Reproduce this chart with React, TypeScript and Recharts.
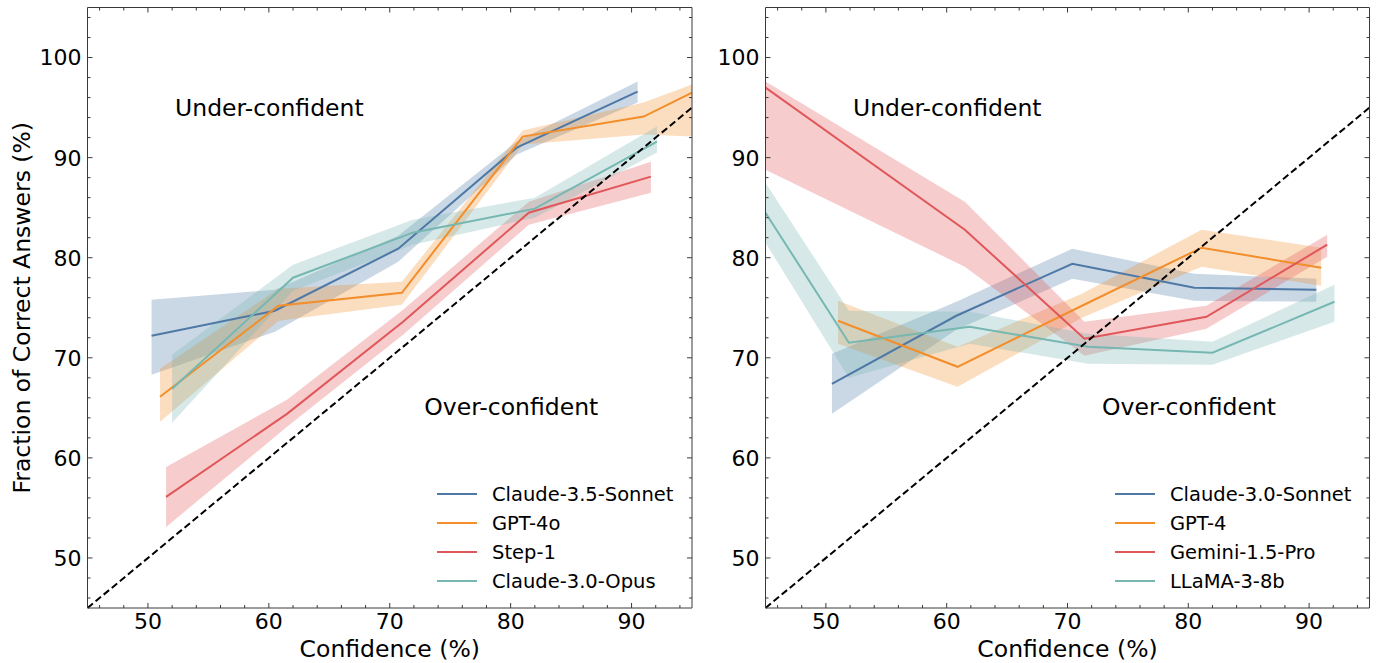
import React from 'react';
import { ComposedChart, Line, Area, XAxis, YAxis, ReferenceLine, ReferenceDot } from 'recharts';

// ---------- tick values ----------
const X_TICKS = [46, 48, 50, 52, 54, 56, 58, 60, 62, 64, 66, 68, 70, 72, 74, 76, 78, 80, 82, 84, 86, 88, 90, 92, 94];
const Y_TICKS = [46, 48, 50, 52, 54, 56, 58, 60, 62, 64, 66, 68, 70, 72, 74, 76, 78, 80, 82, 84, 86, 88, 90, 92, 94, 96, 98, 100, 102, 104];
const DIAGONAL = [45, 95];

// ---------- left panel ----------
const sonnet35Name = 'Claude-3.5-Sonnet';
const sonnet35X = [50.3, 60.5, 70.7, 80.5, 90.5];
const sonnet35Y = [72.2, 74.7, 80.9, 91.0, 96.6];
const sonnet35Lo = [68.3, 72.6, 79.6, 90.3, 95.5];
const sonnet35Hi = [75.8, 76.8, 82.2, 91.6, 97.6];

const gpt4oName = 'GPT-4o';
const gpt4oX = [51.0, 60.8, 71.0, 81.0, 91.0, 95.0];
const gpt4oY = [66.1, 75.2, 76.5, 92.1, 94.1, 96.5];
const gpt4oLo = [63.6, 73.7, 75.3, 91.3, 92.3, 92.1];
const gpt4oHi = [68.9, 76.9, 77.6, 92.7, 95.5, 97.3];

const step1Name = 'Step-1';
const step1X = [51.5, 61.5, 71.1, 81.5, 91.6];
const step1Y = [56.1, 64.4, 73.6, 84.5, 88.1];
const step1Lo = [53.1, 63.1, 72.3, 83.3, 86.5];
const step1Hi = [59.1, 65.8, 74.8, 85.6, 89.6];

const opusName = 'Claude-3.0-Opus';
const opusX = [52.0, 62.0, 71.9, 82.0, 92.1];
const opusY = [66.9, 78.0, 82.5, 84.9, 91.6];
const opusLo = [63.5, 76.7, 81.3, 84.0, 90.5];
const opusHi = [70.3, 79.3, 83.8, 86.0, 93.1];

// ---------- right panel ----------
const sonnet30Name = 'Claude-3.0-Sonnet';
const sonnet30X = [50.5, 60.8, 70.4, 80.5, 90.6];
const sonnet30Y = [67.4, 74.2, 79.4, 77.0, 76.8];
const sonnet30Lo = [64.4, 72.8, 77.9, 75.7, 75.6];
const sonnet30Hi = [70.4, 75.6, 80.9, 78.4, 77.9];

const gpt4Name = 'GPT-4';
const gpt4X = [51.0, 60.9, 71.2, 81.1, 91.0];
const gpt4Y = [73.7, 69.1, 75.2, 81.0, 79.0];
const gpt4Lo = [71.4, 67.1, 74.0, 79.1, 77.2];
const gpt4Hi = [75.7, 71.1, 76.4, 82.8, 81.0];

const geminiName = 'Gemini-1.5-Pro';
const geminiX = [45.0, 61.5, 71.4, 81.5, 91.5];
const geminiY = [97.0, 82.8, 71.9, 74.1, 81.3];
const geminiLo = [88.8, 79.1, 70.2, 72.9, 80.1];
const geminiHi = [97.6, 85.6, 73.6, 75.2, 82.3];

const llamaName = 'LLaMA-3-8b';
const llamaX = [45.0, 51.9, 61.9, 71.7, 82.0, 92.1];
const llamaY = [84.5, 71.5, 73.1, 71.1, 70.5, 75.6];
const llamaLo = [81.5, 68.0, 71.4, 69.4, 69.3, 73.6];
const llamaHi = [87.5, 74.7, 74.6, 72.4, 71.6, 77.3];

// ---------- styling ----------
const BLUE = '#4e79a7';
const ORANGE = '#f28e2b';
const RED = '#e15759';
const TEAL = '#76b7b2';
const FRAME = '#3a3a3a';
const FONT = '"DejaVu Sans", Verdana, sans-serif';

type Series = { name: string; color: string; data: { x: number; y: number; range: [number, number] }[] };

const build = (name: string, color: string, xs: number[], ys: number[], lo: number[], hi: number[]): Series => ({
  name,
  color,
  data: xs.map((x, i) => ({ x, y: ys[i], range: [lo[i], hi[i]] as [number, number] })),
});

const leftSeries: Series[] = [
  build(sonnet35Name, BLUE, sonnet35X, sonnet35Y, sonnet35Lo, sonnet35Hi),
  build(gpt4oName, ORANGE, gpt4oX, gpt4oY, gpt4oLo, gpt4oHi),
  build(step1Name, RED, step1X, step1Y, step1Lo, step1Hi),
  build(opusName, TEAL, opusX, opusY, opusLo, opusHi),
];

const rightSeries: Series[] = [
  build(sonnet30Name, BLUE, sonnet30X, sonnet30Y, sonnet30Lo, sonnet30Hi),
  build(gpt4Name, ORANGE, gpt4X, gpt4Y, gpt4Lo, gpt4Hi),
  build(geminiName, RED, geminiX, geminiY, geminiLo, geminiHi),
  build(llamaName, TEAL, llamaX, llamaY, llamaLo, llamaHi),
];

const MAJOR = 5;
const MINOR = 3;
const isMajor = (v: number) => v % 10 === 0;

type Frame = { left: number; right: number; top: number; bottom: number };

const makeBottomTick = (f: Frame) => (p: any) => {
  const v = p.payload.value;
  const m = isMajor(v);
  return (
    <g>
      <line x1={p.x} x2={p.x} y1={f.bottom} y2={f.bottom - (m ? MAJOR : MINOR)} stroke={FRAME} strokeWidth={1} />
      {m && (
        <text x={p.x} y={f.bottom + 5} dy="0.71em" textAnchor="middle" fontFamily={FONT} fontSize={22} fill="#000">
          {v}
        </text>
      )}
    </g>
  );
};
const makeTopTick = (f: Frame) => (p: any) => {
  const v = p.payload.value;
  const m = isMajor(v);
  return <line x1={p.x} x2={p.x} y1={f.top} y2={f.top + (m ? MAJOR : MINOR)} stroke={FRAME} strokeWidth={1} />;
};
const makeLeftTick = (f: Frame) => (p: any) => {
  const v = p.payload.value;
  const m = isMajor(v);
  return (
    <g>
      <line x1={f.left} x2={f.left + (m ? MAJOR : MINOR)} y1={p.y} y2={p.y} stroke={FRAME} strokeWidth={1} />
      {m && (
        <text x={f.left - 6} y={p.y} dy="0.36em" textAnchor="end" fontFamily={FONT} fontSize={22} fill="#000">
          {v}
        </text>
      )}
    </g>
  );
};
const makeRightTick = (f: Frame) => (p: any) => {
  const v = p.payload.value;
  const m = isMajor(v);
  return <line x1={f.right} x2={f.right - (m ? MAJOR : MINOR)} y1={p.y} y2={p.y} stroke={FRAME} strokeWidth={1} />;
};

const XLabel = (props: any) => {
  const vb = props.viewBox || {};
  return (
    <text x={vb.x + vb.width / 2} y={608 + 49} textAnchor="middle" fontFamily={FONT} fontSize={23.5} fill="#000">
      Confidence (%)
    </text>
  );
};

const YLabel = () => {
  const cy = (7.5 + 608) / 2;
  const bx = 30;
  return (
    <text
      x={bx}
      y={cy}
      transform={`rotate(-90, ${bx}, ${cy})`}
      textAnchor="middle"
      fontFamily={FONT}
      fontSize={23.5}
      fill="#000"
    >
      Fraction of Correct Answers (%)
    </text>
  );
};

const annText = (label: string) => (p: any) => (
  <text x={p.cx} y={p.cy} fontFamily={FONT} fontSize={23.5} fill="#000">
    {label}
  </text>
);

const UNDER_POS = { x: 52.24, y: 94.2 };
const OVER_POS = { x: 72.86, y: 64.3 };

type PanelProps = {
  series: Series[];
  left: number;
  width: number;
  frame: Frame;
  showYLabel: boolean;
  legendLeft: number;
};

const Panel = ({ series, left, width, frame, showYLabel, legendLeft }: PanelProps) => {
  const margin = {
    top: frame.top - 1,
    bottom: 663 - frame.bottom - 50,
    left: frame.left - 60,
    right: width - frame.right - 1,
  };
  return (
    <div style={{ position: 'absolute', left, top: 0, width, height: 663 }}>
      <ComposedChart width={width} height={663} margin={margin}>
        <XAxis
          type="number"
          dataKey="x"
          domain={[45, 95]}
          allowDataOverflow
          ticks={X_TICKS}
          interval={0}
          tickSize={0}
          tickMargin={0}
          height={50}
          axisLine={{ stroke: FRAME, strokeWidth: 1 }}
          tickLine={false}
          tick={makeBottomTick(frame)}
          label={XLabel}
        />
        <XAxis
          xAxisId="top"
          orientation="top"
          type="number"
          dataKey="x"
          domain={[45, 95]}
          allowDataOverflow
          ticks={X_TICKS}
          interval={0}
          tickSize={0}
          tickMargin={0}
          height={1}
          axisLine={{ stroke: FRAME, strokeWidth: 1 }}
          tickLine={false}
          tick={makeTopTick(frame)}
        />
        <YAxis
          type="number"
          domain={[45, 105]}
          allowDataOverflow
          ticks={Y_TICKS}
          interval={0}
          tickSize={0}
          tickMargin={0}
          width={60}
          axisLine={{ stroke: FRAME, strokeWidth: 1 }}
          tickLine={false}
          tick={makeLeftTick(frame)}
          label={showYLabel ? YLabel : undefined}
        />
        <YAxis
          yAxisId="right"
          orientation="right"
          type="number"
          domain={[45, 105]}
          allowDataOverflow
          ticks={Y_TICKS}
          interval={0}
          tickSize={0}
          tickMargin={0}
          width={1}
          axisLine={{ stroke: FRAME, strokeWidth: 1 }}
          tickLine={false}
          tick={makeRightTick(frame)}
        />
        {series.map((s) => (
          <Area
            key={`a-${s.name}`}
            data={s.data}
            dataKey="range"
            type="linear"
            stroke="none"
            fill={s.color}
            fillOpacity={0.3}
            dot={false}
            activeDot={false}
            isAnimationActive={false}
          />
        ))}
        {series.map((s) => (
          <Line
            key={`l-${s.name}`}
            data={s.data}
            dataKey="y"
            type="linear"
            stroke={s.color}
            strokeWidth={2}
            dot={false}
            activeDot={false}
            isAnimationActive={false}
          />
        ))}
        <Line
          data={series[0].data}
          dataKey="y"
          xAxisId="top"
          yAxisId="right"
          stroke="none"
          dot={false}
          activeDot={false}
          legendType="none"
          isAnimationActive={false}
        />
        <ReferenceLine
          segment={[
            { x: DIAGONAL[0], y: DIAGONAL[0] },
            { x: DIAGONAL[1], y: DIAGONAL[1] },
          ]}
          stroke="#000"
          strokeWidth={2}
          strokeDasharray="7 3.5"
        />
        <ReferenceDot x={UNDER_POS.x} y={UNDER_POS.y} r={1} shape={annText('Under-confident')} />
        <ReferenceDot x={OVER_POS.x} y={OVER_POS.y} r={1} shape={annText('Over-confident')} />
      </ComposedChart>
      <div style={{ position: 'absolute', left: legendLeft, top: 479.5, fontFamily: FONT, fontSize: 19.5, color: '#000' }}>
        {series.map((s) => (
          <div key={s.name} style={{ height: 29, display: 'flex', alignItems: 'center', whiteSpace: 'nowrap', lineHeight: '29px' }}>
            <div style={{ width: 40, height: 2.5, background: s.color, marginRight: 15 }} />
            <span>{s.name}</span>
          </div>
        ))}
      </div>
    </div>
  );
};

export default function App() {
  return (
    <div style={{ position: 'absolute', left: 0, top: 0, width: 1376, height: 663, background: '#fff' }}>
      <Panel
        series={leftSeries}
        left={0}
        width={700}
        frame={{ left: 87.5, right: 692, top: 7.5, bottom: 608 }}
        showYLabel
        legendLeft={437}
      />
      <Panel
        series={rightSeries}
        left={690}
        width={686}
        frame={{ left: 75.5, right: 679.5, top: 7.5, bottom: 608 }}
        showYLabel={false}
        legendLeft={425}
      />
    </div>
  );
}
